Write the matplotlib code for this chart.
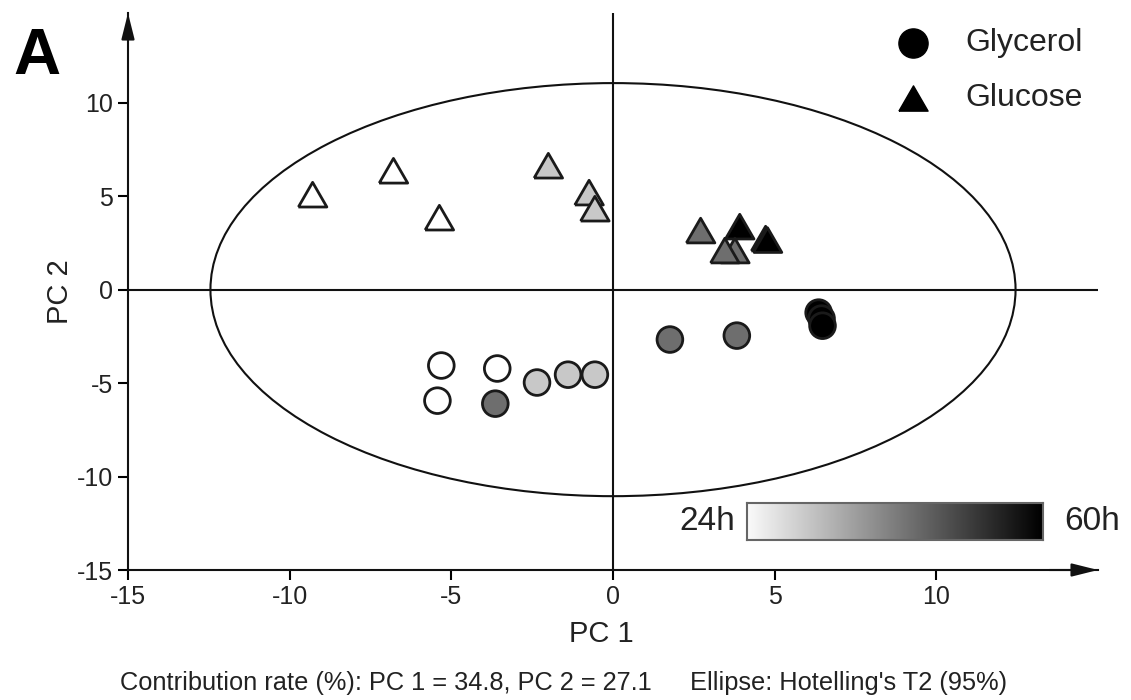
import matplotlib
matplotlib.use('Agg')
import matplotlib.pyplot as plt
import numpy as np
from matplotlib.patches import Ellipse
from matplotlib.colors import LinearSegmentedColormap

plt.rcParams['font.family'] = ['Liberation Sans', 'DejaVu Sans']
plt.rcParams['axes.unicode_minus'] = False

# ----------------------------------------------------
# Dados
# ----------------------------------------------------
# Glycerol (círculos)
glycerol_pc1 = [-5.31, -5.43, -3.58, -2.35, -1.39, -0.56, -3.64, 1.76, 3.83, 6.36, 6.45, 6.48]
glycerol_pc2 = [-4.06, -5.94, -4.22, -4.97, -4.55, -4.55, -6.10, -2.67, -2.46, -1.23, -1.55, -1.93]
glycerol_time = [24, 24, 24, 36, 36, 36, 48, 48, 48, 60, 60, 60]

# Glucose (triângulos)
glucose_pc1 = [-9.29, -6.79, -5.37, -2.00, -0.74, -0.56, 3.92, 4.72, 4.78, 2.71, 3.77, 3.46]
glucose_pc2 = [5.08, 6.36, 3.85, 6.63, 5.19, 4.33, 3.37, 2.73, 2.65, 3.16, 2.09, 2.09]
glucose_time = [24, 24, 24, 36, 36, 36, 60, 60, 60, 48, 48, 48]

time_colors = {24: 'white', 36: '#c8c8c8', 48: '#6e6e6e', 60: 'black'}

# Elipse de Hotelling T2 (95%)
ellipse_width = 24.9
ellipse_height = 22.1

contrib_pc1 = 34.8
contrib_pc2 = 27.1

# ----------------------------------------------------
# Figura
# ----------------------------------------------------
fig = plt.figure(figsize=(11.31, 7.0), dpi=100)
ax = fig.add_axes([128 / 1131, 1 - 570 / 700, 970 / 1131, 557 / 700])

tri = [(-1, -0.866), (1, -0.866), (0, 0.866), (-1, -0.866)]
edge = '#1a1a1a'
txt = '#222222'

ax.add_patch(Ellipse((0, 0), ellipse_width, ellipse_height, fill=False,
                     edgecolor='#111111', linewidth=1.5, zorder=2))
ax.axhline(0, color='#111111', linewidth=1.5, zorder=1)
ax.axvline(0, color='#111111', linewidth=1.5, zorder=1)

ax.scatter(glucose_pc1, glucose_pc2, s=20.5 ** 2, marker=tri,
           c=[time_colors[t] for t in glucose_time], edgecolors=edge,
           linewidths=2, zorder=3)
ax.scatter(glycerol_pc1, glycerol_pc2, s=18.5 ** 2, marker='o',
           c=[time_colors[t] for t in glycerol_time], edgecolors=edge,
           linewidths=2, zorder=3)

ax.set_xlim(-15, 15)
ax.set_ylim(-15, 14.8)
ax.set_xticks([-15, -10, -5, 0, 5, 10])
ax.set_yticks([-15, -10, -5, 0, 5, 10])
ax.tick_params(direction='out', length=7, width=1.5, labelsize=18,
               labelcolor=txt, pad=4)

for s in ['top', 'right']:
    ax.spines[s].set_visible(False)
for s in ['left', 'bottom']:
    ax.spines[s].set_linewidth(1.5)
    ax.spines[s].set_color('#111111')

# setas nos eixos
arrow = dict(arrowstyle='-|>,head_length=1.6,head_width=0.4', color='#111111',
             lw=1.5, shrinkA=0, shrinkB=0)
ax.annotate('', xy=(1.0, 0), xytext=(0.95, 0), xycoords='axes fraction',
            arrowprops=arrow, annotation_clip=False)
ax.annotate('', xy=(0, 1.0), xytext=(0, 0.95), xycoords='axes fraction',
            arrowprops=arrow, annotation_clip=False)

ax.set_xlabel('PC 1', fontsize=21, color=txt)
ax.set_ylabel('PC 2', fontsize=21, color=txt)
ax.xaxis.set_label_coords(0.4876, -0.09)
ax.yaxis.set_label_coords(-0.056, 0.5)

# legenda manual
ax.scatter([0.809], [0.9465], s=21 ** 2, marker='o', color='black',
           transform=ax.transAxes, clip_on=False)
ax.scatter([0.809], [0.8477], s=21 ** 2, marker=tri, color='black',
           transform=ax.transAxes, clip_on=False)
ax.text(0.863, 0.9465, 'Glycerol', fontsize=23, color=txt,
        va='center', transform=ax.transAxes)
ax.text(0.863, 0.8477, 'Glucose', fontsize=23, color=txt,
        va='center', transform=ax.transAxes)

# barra de tempo
cax = fig.add_axes([747 / 1131, 1 - 540 / 700, 296 / 1131, 37 / 700])
grad = np.linspace(0, 1, 256).reshape(1, -1)
cmap = LinearSegmentedColormap.from_list('t', ['#fafafa', '#000000'])
cax.imshow(grad, aspect='auto', cmap=cmap)
cax.set_xticks([])
cax.set_yticks([])
for s in cax.spines.values():
    s.set_color('#666666')
    s.set_linewidth(1.5)
fig.text(735 / 1131, 1 - 522 / 700, '24h', fontsize=24, color=txt,
         ha='right', va='center')
fig.text(1064 / 1131, 1 - 522 / 700, '60h', fontsize=24, color=txt,
         ha='left', va='center')

# rótulo do painel e rodapé
fig.text(13 / 1131, 1 - 57 / 700, 'A', fontsize=47, fontweight='bold',
         ha='left', va='center')
fig.text(120 / 1131, 1 - 683 / 700,
         f'Contribution rate (%): PC 1 = {contrib_pc1}, PC 2 = {contrib_pc2}',
         fontsize=18.3, color=txt, ha='left', va='center')
fig.text(690 / 1131, 1 - 683 / 700, "Ellipse: Hotelling's T2 (95%)",
         fontsize=18.3, color=txt, ha='left', va='center')

fig.savefig('out.png', dpi=100)
